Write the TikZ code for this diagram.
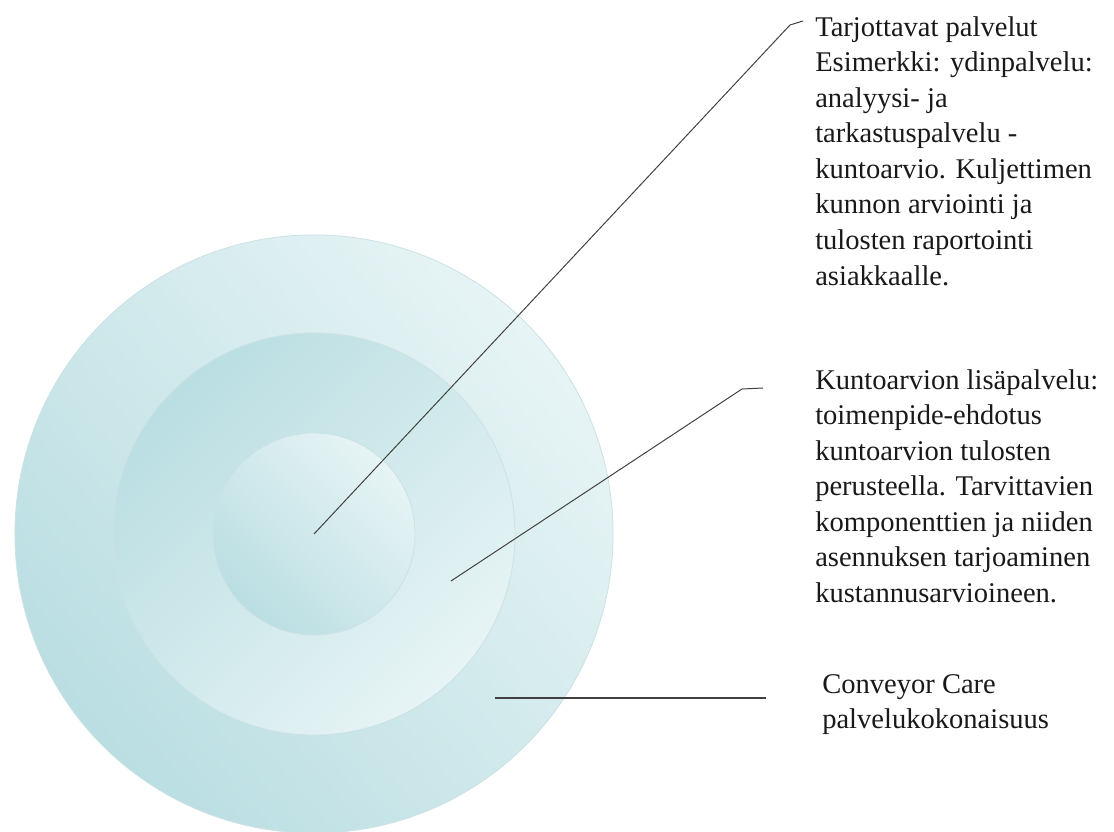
\documentclass[tikz,border=0pt]{standalone}
\usepackage{fontspec}
\setmainfont{Liberation Serif}
\usepackage{xcolor}
\usetikzlibrary{positioning}

\definecolor{tealdark}{RGB}{186,222,226}
\definecolor{tealpale}{RGB}{231,244,245}
\definecolor{ringline}{RGB}{204,226,229}

\begin{document}
\begin{tikzpicture}[
    x=0.025cm, y=-0.025cm,
    ring/.style={circle, draw=ringline, line width=0.6pt, inner sep=0pt},
    lbl/.style={anchor=north west, align=left, inner sep=0pt, text=black!90,
                font=\fontsize{20.3}{25.3}\selectfont},
    leader/.style={draw=black!75, line width=0.7pt},
  ]
  \useasboundingbox (0,0) rectangle (1114,832);

  % the three rings
  \node[ring, minimum size=14.95cm, top color=tealpale, bottom color=tealdark, shading angle=-50] (outer) at (314,534) {};
  \node[ring, minimum size=10.05cm, top color=tealdark, bottom color=tealpale, shading angle=45] (middle) at (314,534) {};
  \node[ring, minimum size=5.05cm, top color=tealpale, bottom color=tealdark, shading angle=-45] (inner) at (314,534) {};

  % texts
  \node[lbl] (tarjonta) at (815,16) {Tarjottavat palvelut\\Esimerkki: ydinpalvelu:\\analyysi- ja\\tarkastuspalvelu -\\kuntoarvio. Kuljettimen\\kunnon arviointi ja\\tulosten raportointi\\asiakkaalle.};
  \node[lbl] (lisa) at (815,369) {Kuntoarvion lisäpalvelu:\\toimenpide-ehdotus\\kuntoarvion tulosten\\perusteella. Tarvittavien\\komponenttien ja niiden\\asennuksen tarjoaminen\\kustannusarvioineen.};
  \node[lbl] (kokonaisuus) at (822,674) {Conveyor Care\\palvelukokonaisuus};

  % leader lines
  \coordinate (kulmaA) at (790,25);
  \coordinate (paaA) at (803,21);
  \coordinate (alkuB) at (451,581);
  \coordinate (kulmaB) at (742,389);
  \coordinate (paaB) at (763,388);
  \coordinate (alkuC) at (495,698);
  \coordinate (paaC) at (766,698);

  \draw[leader] (inner.center) -- (kulmaA) -- (paaA);
  \draw[leader] (alkuB) -- (kulmaB) -- (paaB);
  \draw[leader, line width=1.1pt] (alkuC) -- (paaC);
\end{tikzpicture}
\end{document}
